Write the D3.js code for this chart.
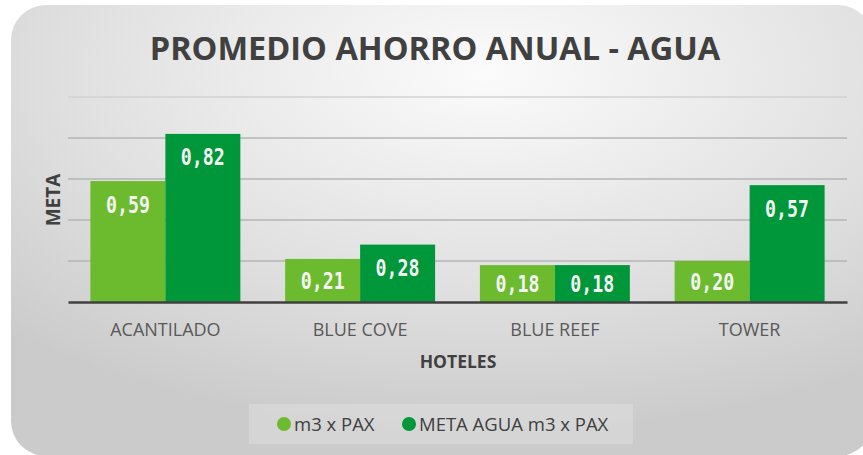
<!DOCTYPE html>
<html>
<head>
<meta charset="utf-8">
<script src="https://cdn.jsdelivr.net/npm/d3@7"></script>
<style>
  body { margin: 0; background: #ffffff; }
  svg { display: block; }
</style>
</head>
<body>
<div id="chart"></div>
<script>
// chart data
var categories = ["ACANTILADO", "BLUE COVE", "BLUE REEF", "TOWER"];
var seriesNames = ["m3 x PAX", "META AGUA m3 x PAX"];
var m3xPax = [0.59, 0.21, 0.18, 0.20];
var metaAgua = [0.82, 0.28, 0.18, 0.57];
var gridTicks = [0.2, 0.4, 0.6, 0.8, 1.0];

var colors = ["#6cbb2f", "#00963a"];

var svgWidth = 863;
var svgHeight = 455;

var margin = { top: 97, right: 16, bottom: 153, left: 68 };
var width = svgWidth - margin.left - margin.right;
var height = svgHeight - margin.top - margin.bottom;

var svg = d3.select("#chart")
  .append("svg")
  .attr("width", svgWidth)
  .attr("height", svgHeight);

// card background with soft gradient
var defs = svg.append("defs");
var grad = defs.append("radialGradient")
  .attr("id", "cardGrad")
  .attr("cx", "55%").attr("cy", "15%")
  .attr("r", "80%");
grad.append("stop").attr("offset", "0%").attr("stop-color", "#fbfbfb");
grad.append("stop").attr("offset", "60%").attr("stop-color", "#e0e0e0");
grad.append("stop").attr("offset", "100%").attr("stop-color", "#cbcbcb");

svg.append("rect")
  .attr("x", 11).attr("y", 5)
  .attr("width", 862).attr("height", 451)
  .attr("rx", 35).attr("ry", 35)
  .attr("fill", "url(#cardGrad)");

var chartGroup = svg.append("g")
  .attr("transform", `translate(${margin.left}, ${margin.top})`);

var x0 = d3.scaleBand()
  .domain(categories)
  .range([0, width])
  .paddingInner(0.23)
  .paddingOuter(0.115);

var x1 = d3.scaleBand()
  .domain(seriesNames)
  .range([0, x0.bandwidth()]);

var yScale = d3.scaleLinear()
  .domain([0, 1])
  .range([height, 0]);

// gridlines
chartGroup.selectAll(".grid")
  .data(gridTicks)
  .enter()
  .append("line")
  .attr("x1", 0)
  .attr("x2", width)
  .attr("y1", d => yScale(d))
  .attr("y2", d => yScale(d))
  .attr("stroke", (d, i) => i == gridTicks.length - 1 ? "#d2d2d2" : "#b4b4b4")
  .attr("stroke-width", 1.5);

var rows = categories.map(function(c, i) {
  return { cat: c, values: [m3xPax[i], metaAgua[i]] };
});

var groups = chartGroup.selectAll(".group")
  .data(rows)
  .enter()
  .append("g")
  .attr("transform", d => `translate(${x0(d.cat)}, 0)`);

groups.selectAll("rect")
  .data(d => d.values.map((v, j) => ({ key: seriesNames[j], value: v, j: j })))
  .enter()
  .append("rect")
  .attr("x", d => x1(d.key))
  .attr("y", d => yScale(d.value))
  .attr("width", x1.bandwidth())
  .attr("height", d => height - yScale(d.value))
  .attr("fill", d => colors[d.j]);

var fmt = d3.formatLocale({ decimal: ",", thousands: ".", grouping: [3], currency: ["", ""] }).format(".2f");

// value labels inside the top of each bar
groups.selectAll("text")
  .data(d => d.values.map((v, j) => ({ key: seriesNames[j], value: v })))
  .enter()
  .append("text")
  .attr("x", d => x1(d.key) + x1.bandwidth() / 2)
  .attr("y", function(d) {
    var top = yScale(d.value);
    return Math.min(top + 23, (top + height) / 2) + 8.5;
  })
  .attr("text-anchor", "middle")
  .attr("font-family", "DejaVu Sans Mono")
  .attr("font-weight", "bold")
  .attr("font-size", 23.5)
  .attr("textLength", 44)
  .attr("lengthAdjust", "spacingAndGlyphs")
  .attr("fill", "#f4f4f4")
  .text(d => fmt(d.value));

// baseline axis
var xAxis = d3.axisBottom(x0).tickSize(0).tickPadding(21);
var axisG = chartGroup.append("g")
  .attr("transform", `translate(0, ${height})`)
  .call(xAxis);
axisG.select(".domain")
  .attr("stroke", "#404040")
  .attr("stroke-width", 2.5);
axisG.selectAll("text")
  .attr("font-family", "Open Sans")
  .attr("font-size", 18)
  .attr("fill", "#595959");

// title
svg.append("text")
  .attr("x", 435)
  .attr("y", 60)
  .attr("text-anchor", "middle")
  .attr("font-family", "Open Sans")
  .attr("font-weight", "bold")
  .attr("font-size", 32.5)
  .attr("fill", "#404040")
  .text("PROMEDIO AHORRO ANUAL - AGUA");

// axis titles
svg.append("text")
  .attr("transform", "translate(60, 200) rotate(-90)")
  .attr("text-anchor", "middle")
  .attr("font-family", "Open Sans")
  .attr("font-weight", "bold")
  .attr("font-size", 19)
  .attr("fill", "#404040")
  .text("META");

svg.append("text")
  .attr("x", 458)
  .attr("y", 368)
  .attr("text-anchor", "middle")
  .attr("font-family", "Open Sans")
  .attr("font-weight", "bold")
  .attr("font-size", 17.5)
  .attr("fill", "#404040")
  .text("HOTELES");

// legend
svg.append("rect")
  .attr("x", 249).attr("y", 404)
  .attr("width", 384).attr("height", 40)
  .attr("fill", "#ffffff")
  .attr("fill-opacity", 0.2);

var legendX = [284, 409];
var legend = svg.selectAll(".legend")
  .data(seriesNames)
  .enter()
  .append("g")
  .attr("transform", (d, i) => `translate(${legendX[i]}, 424)`);

legend.append("circle")
  .attr("r", 7)
  .attr("fill", (d, i) => colors[i]);

legend.append("text")
  .attr("x", 10)
  .attr("y", 6.5)
  .attr("font-family", "Open Sans")
  .attr("font-size", 18.5)
  .attr("fill", "#404040")
  .text(d => d);
</script>
</body>
</html>
